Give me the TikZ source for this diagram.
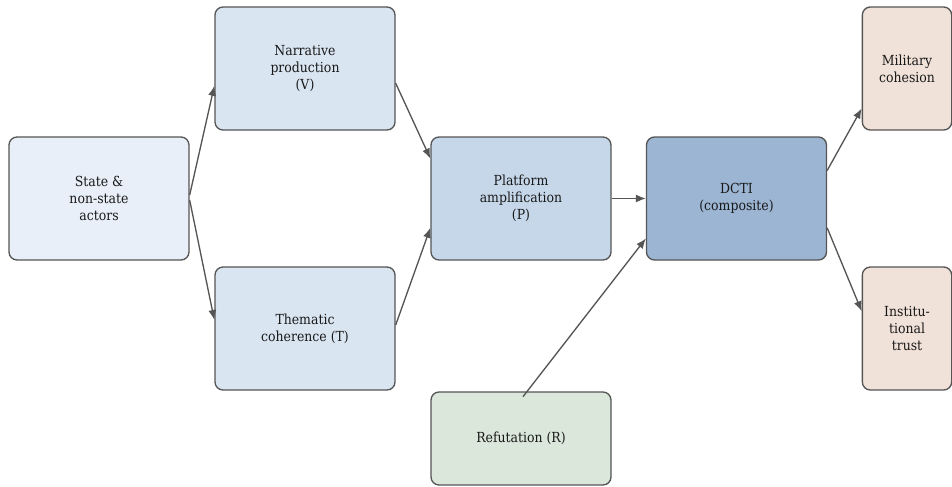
\documentclass[tikz,border=0pt]{standalone}
\usepackage{fontspec}
\setmainfont{DejaVu Serif Condensed}
\usetikzlibrary{arrows.meta}

\definecolor{actorfill}{HTML}{E8EFF8}
\definecolor{stagefill}{HTML}{DAE5F2}
\definecolor{platfill}{HTML}{C6D7EA}
\definecolor{dctifill}{HTML}{9BB5D3}
\definecolor{effectfill}{HTML}{F0E2D8}
\definecolor{refutfill}{HTML}{DAE7DA}
\definecolor{edgegray}{HTML}{555555}

\begin{document}
\begin{tikzpicture}[x = 0.75pt, y = -0.75pt,
    box/.style = {draw = edgegray, line width = 1pt, rounded corners = 6pt,
                  align = center, font = \fontsize{10.4}{12.8}\selectfont, text = black!90,
                  minimum width = 135pt, minimum height = 92.25pt, inner sep = 2pt},
    smallbox/.style = {box, minimum width = 67pt, text width = 62pt},
    arr/.style = {draw = edgegray, line width = 1pt, -{Latex[length = 7.5pt, width = 6pt]}}]
          \useasboundingbox (0, 0) rectangle (952, 486);

          \node[box, fill = actorfill]  at ( 99, 198.5) (actors) {State \&\\non-state\\actors};
          \node[box, fill = stagefill]  at (305,  68.5) (narr)   {Narrative\\production\\(V)};
          \node[box, fill = stagefill]  at (305, 328.5) (them)   {Thematic\\coherence (T)};
          \node[box, fill = platfill]   at (521, 198.5) (plat)   {Platform\\amplification\\(P)};
          \node[box, fill = dctifill]   at (736.5, 198.5) (dcti) {DCTI\\(composite)};
          \node[box, fill = refutfill, minimum height = 69.75pt] at (521, 438.5) (refut) {Refutation (R)};
          \node[smallbox, fill = effectfill] at (907,  68.5) (mil)  {Military\\cohesion\\[2.1em]};
          \node[smallbox, fill = effectfill] at (907, 328.5) (inst) {Institu-\\tional\\trust};

          \draw[arr] ([yshift = 2.6pt]actors.east) -- ([yshift = -13pt]narr.west);
          \draw[arr] ([yshift = -1.2pt]actors.east) -- ([yshift = 6.4pt]them.west);
          \draw[arr] ([yshift = -11pt]narr.east) -- ([yshift = 30pt]plat.west);
          \draw[arr] ([yshift = 2.6pt]them.east) -- ([yshift = -22pt]plat.west);
          \draw[arr] (plat) -- (dcti);
          \draw[arr] ([xshift = 1.5pt, yshift = -4pt]refut.north) -- ([yshift = -30pt]dcti.west);
          \draw[arr] ([yshift = 21pt]dcti.east) -- ([yshift = -30pt]mil.west);
          \draw[arr] ([yshift = -22pt]dcti.east) -- ([yshift = 13pt]inst.west);
        \end{tikzpicture}
\end{document}
